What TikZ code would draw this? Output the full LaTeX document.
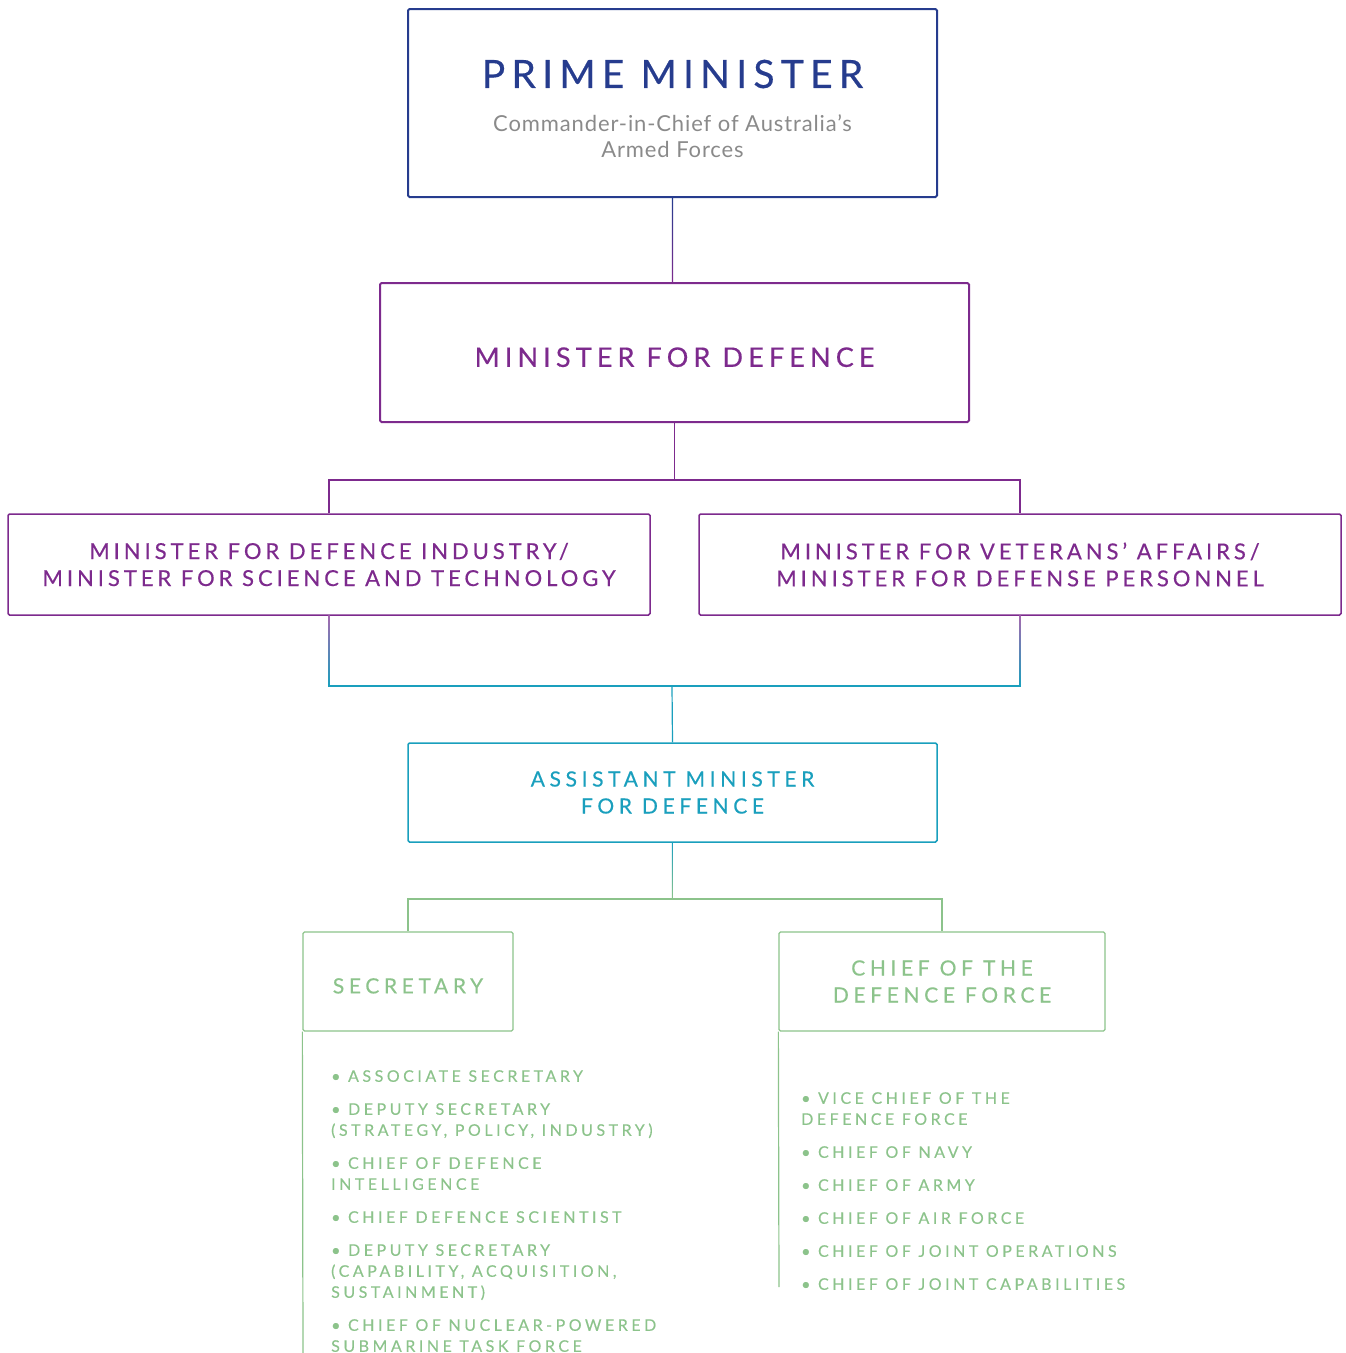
\documentclass[tikz,border=0pt]{standalone}
\usepackage{fontspec}
\setmainfont{Lato}
\newfontfamily\pmfont[LetterSpace=16,FakeBold=0.4]{Lato}
\newfontfamily\mfdfont[LetterSpace=19,FakeBold=0.4]{Lato}
\newfontfamily\minfont[LetterSpace=18,FakeBold=0.4]{Lato}
\newfontfamily\lowfont[LetterSpace=22,FakeBold=0.4]{Lato}
\newfontfamily\listfont[LetterSpace=22,FakeBold=0.3]{Lato}
\newfontfamily\subfont[LetterSpace=4]{Lato}

\definecolor{pmblue}{HTML}{263C8E}
\definecolor{minpurple}{HTML}{7D2A8D}
\definecolor{astteal}{HTML}{1A9FBD}
\definecolor{depgreen}{HTML}{8CC38B}
\definecolor{subgrey}{HTML}{8A8A8A}

\tikzset{
  orgbox/.style={draw, rectangle, rounded corners=1.5pt, align=center, inner sep=0pt},
  link/.style={line width=1.2pt},
  itemlist/.style={anchor=north west, inner sep=0pt, align=left, text=depgreen,
    font=\listfont\fontsize{16}{21}\selectfont}
}

\begin{document}
\begin{tikzpicture}[x=1pt,y=-1pt]
    \useasboundingbox (0,0) rectangle (1345,1353);

    \node[orgbox, draw=pmblue, line width=2pt, minimum width=529pt, minimum height=188pt] (pm) at (672.5,103) {};
    \node[text=pmblue, font=\pmfont\fontsize{39}{44}\selectfont] (pmtitle) at (672.5,74) {PRIME MINISTER};
    \node[text=subgrey, align=center, font=\subfont\fontsize{22}{26}\selectfont] (pmsub) at (672.5,136) {Commander-in-Chief of Australia’s\\Armed Forces};

    \node[orgbox, draw=minpurple, line width=2pt, minimum width=589pt, minimum height=139pt, text height=29pt,
      text=minpurple, font=\mfdfont\fontsize{27}{32}\selectfont] (mfd) at (674.5,352.5) {MINISTER FOR DEFENCE};

    \node[orgbox, draw=minpurple, line width=1.5pt, minimum width=642pt, minimum height=101pt,
      text=minpurple, font=\minfont\fontsize{22}{27}\selectfont] (dind) at (329,564.5)
      {MINISTER FOR DEFENCE INDUSTRY/\\MINISTER FOR SCIENCE AND TECHNOLOGY};
    \node[orgbox, draw=minpurple, line width=1.5pt, minimum width=642pt, minimum height=101pt,
      text=minpurple, font=\minfont\fontsize{22}{27}\selectfont] (vet) at (1020,564.5)
      {MINISTER FOR VETERANS’ AFFAIRS/\\MINISTER FOR DEFENSE PERSONNEL};

    \node[orgbox, draw=astteal, line width=1.5pt, minimum width=529pt, minimum height=99pt,
      text=astteal, font=\lowfont\fontsize{21}{27}\selectfont] (asst) at (672.5,792.5)
      {ASSISTANT MINISTER\\FOR DEFENCE};

    \node[orgbox, draw=depgreen, line width=1.3pt, minimum width=210pt, minimum height=99pt, text height=24pt,
      text=depgreen, font=\lowfont\fontsize{21}{27}\selectfont] (sec) at (408,981.5) {SECRETARY};
    \node[orgbox, draw=depgreen, line width=1.3pt, minimum width=326pt, minimum height=99pt,
      text=depgreen, font=\lowfont\fontsize{21}{27}\selectfont] (cdf) at (942,981.5)
      {CHIEF OF THE\\DEFENCE FORCE};

    \coordinate (jm) at (672,480);
    \coordinate (jt) at (672,686);
    \coordinate (jg) at (672,899);
    \coordinate (secend) at (303,1353);
    \coordinate (cdfend) at (779,1287);

    % colour runs from one level into the next
    \shade[top color=pmblue, bottom color=minpurple] ([xshift=-0.6pt]pm.south) rectangle ([xshift=0.6pt]pm.south |- mfd.north);
    \draw[link, minpurple] (mfd.south) -- (mfd.south |- jm);
    \draw[link, minpurple] (dind.north) |- (jm) -| (vet.north);
    \shade[top color=minpurple!70, bottom color=astteal] ([xshift=-0.6pt]dind.south) rectangle ([xshift=0.6pt]dind.south |- jt);
    \shade[top color=minpurple!70, bottom color=astteal] ([xshift=-0.6pt]vet.south) rectangle ([xshift=0.6pt]vet.south |- jt);
    \draw[link, astteal] ([xshift=-0.6pt]dind.south |- jt) -- ([xshift=0.6pt]vet.south |- jt);
    \draw[link, astteal] (jt) -- (asst.north);
    \shade[top color=astteal, bottom color=depgreen] ([xshift=-0.6pt]asst.south) rectangle ([xshift=0.6pt]jg);
    \draw[link, depgreen] (sec.north) |- (jg) -| (cdf.north);
    \draw[link, depgreen] (sec.south west) -- (secend);
    \draw[link, depgreen] (cdf.south west) -- (cdfend);

    \node[itemlist] (seclist) at (331,1070) {%
      • ASSOCIATE SECRETARY\\[12pt]
      • DEPUTY SECRETARY\\(STRATEGY, POLICY, INDUSTRY)\\[12pt]
      • CHIEF OF DEFENCE\\INTELLIGENCE\\[12pt]
      • CHIEF DEFENCE SCIENTIST\\[12pt]
      • DEPUTY SECRETARY\\(CAPABILITY, ACQUISITION,\\SUSTAINMENT)\\[12pt]
      • CHIEF OF NUCLEAR-POWERED\\SUBMARINE TASK FORCE};
    \node[itemlist] (cdflist) at (801,1092) {%
      • VICE CHIEF OF THE\\DEFENCE FORCE\\[12pt]
      • CHIEF OF NAVY\\[12pt]
      • CHIEF OF ARMY\\[12pt]
      • CHIEF OF AIR FORCE\\[12pt]
      • CHIEF OF JOINT OPERATIONS\\[12pt]
      • CHIEF OF JOINT CAPABILITIES};
\end{tikzpicture}
\end{document}
